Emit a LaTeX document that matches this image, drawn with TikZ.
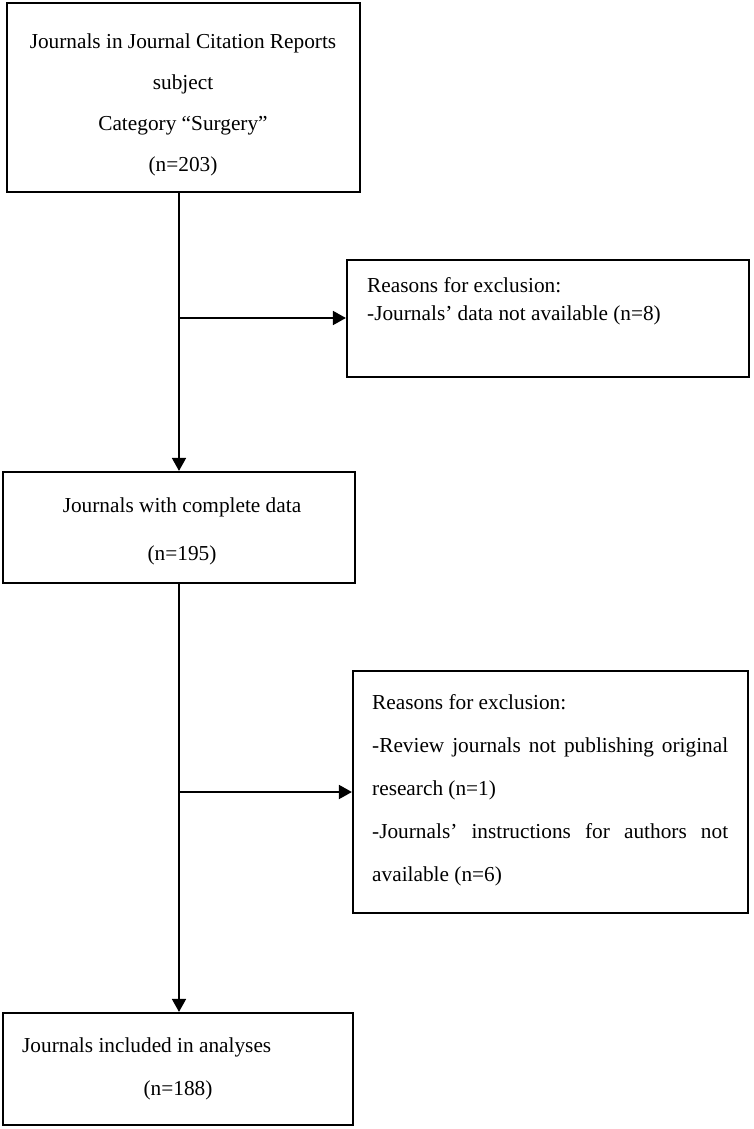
\documentclass[tikz,border=0pt]{standalone}
\usepackage{fontspec}
\setmainfont{Liberation Serif}
\usetikzlibrary{arrows.meta}
\newcommand{\jline}[1]{\makebox[356pt][s]{#1}}

\begin{document}
\begin{tikzpicture}[x=1pt,y=1pt,
box/.style={draw,line width=2.2pt,inner sep=0pt},
txt/.style={font=\fontsize{21.3}{41}\selectfont,inner sep=0pt},
arr/.style={line width=1.8pt,-{Triangle[length=13pt,width=14pt]}}]
\useasboundingbox (0,0) rectangle (754,-1129);
% boxes
\node[box,minimum width=353,minimum height=189] (src) at (183.5,-97.5) {};
\node[box,minimum width=402,minimum height=117] (excl1) at (548,-318.5) {};
\node[box,minimum width=352,minimum height=111] (mid) at (179,-527.5) {};
\node[box,minimum width=395,minimum height=242] (excl2) at (550.5,-792) {};
\node[box,minimum width=350,minimum height=112] (final) at (178,-1069) {};
% texts
\node[txt,align=center] (srctxt) at (183,-105)
  {Journals in Journal Citation Reports\\subject\\Category “Surgery”\\(n=203)};
\node[txt,align=left,anchor=west,font=\fontsize{21.3}{28}\selectfont] (excl1txt) at (367,-301)
  {Reasons for exclusion:\\-Journals’ data not available (n=8)};
\node[txt,align=center,font=\fontsize{21.3}{48}\selectfont] (midtxt) at (182,-531)
  {Journals with complete data\\(n=195)};
\node[txt,align=left,anchor=west,font=\fontsize{21.3}{43}\selectfont] (excl2txt) at (372,-790.5)
  {Reasons for exclusion:\\\jline{-Review journals not publishing original}\\research (n=1)\\
   \jline{-Journals’ instructions for authors not}\\available (n=6)};
\node[txt,anchor=west] (finaltxt) at (22,-1047) {Journals included in analyses};
\node[txt] (finaln) at (178,-1090) {(n=188)};
% connectors
\coordinate (j1) at (179,-318);
\coordinate (j2) at (179,-792);
\draw[arr] (src.south -| j1) -- (mid.north -| j1);
\draw[arr] (j1) -- (j1 -| excl1.west);
\draw[arr] (mid.south -| j2) -- (final.north -| j2);
\draw[arr] (j2) -- (j2 -| excl2.west);
\end{tikzpicture}
\end{document}
